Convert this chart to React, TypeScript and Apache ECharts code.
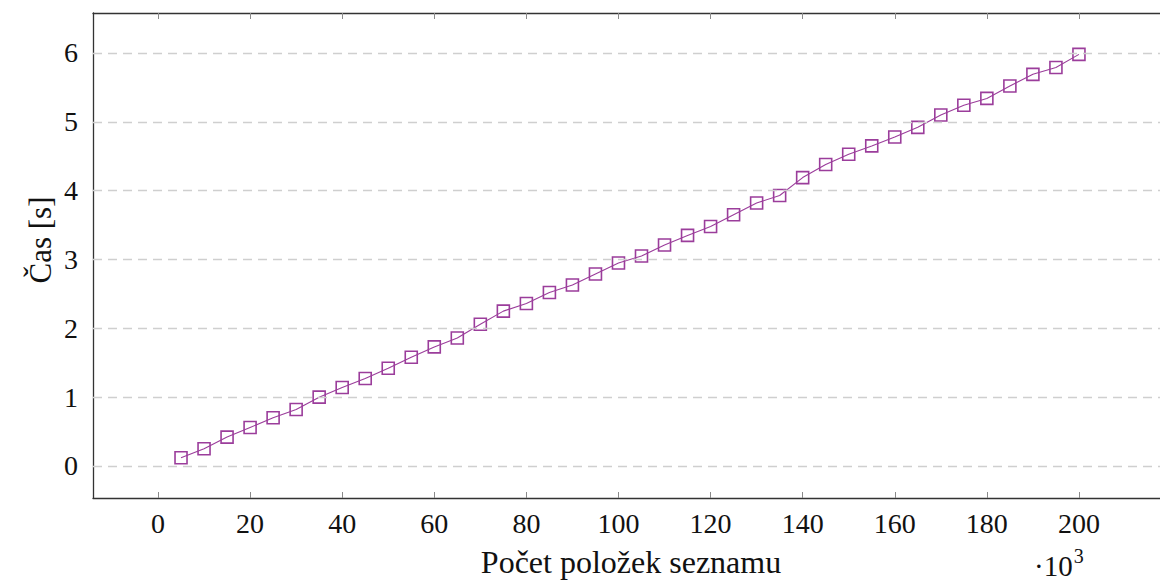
import React, { useEffect, useRef } from "react";
import * as echarts from "echarts";

const counts = [5, 10, 15, 20, 25, 30, 35, 40, 45, 50, 55, 60, 65, 70, 75, 80, 85, 90, 95, 100,
  105, 110, 115, 120, 125, 130, 135, 140, 145, 150, 155, 160, 165, 170, 175, 180, 185, 190, 195, 200];
const times = [0.12, 0.25, 0.42, 0.56, 0.70, 0.82, 1.00, 1.14, 1.27, 1.42, 1.58, 1.73, 1.86, 2.06, 2.25, 2.36, 2.52, 2.63, 2.79, 2.95,
  3.05, 3.21, 3.35, 3.48, 3.65, 3.82, 3.93, 4.19, 4.38, 4.53, 4.65, 4.78, 4.92, 5.10, 5.24, 5.34, 5.52, 5.69, 5.79, 5.98];
const xTicks = [0, 20, 40, 60, 80, 100, 120, 140, 160, 180, 200];
const yTicks = [0, 1, 2, 3, 4, 5, 6];

const FONT = "'Liberation Serif', 'DejaVu Serif', serif";
const PURPLE = "#9b3d9b";

export default function App() {
  const ref = useRef<HTMLDivElement>(null);
  useEffect(() => {
    document.body.style.margin = "0";
    const chart = echarts.init(ref.current!, null, { renderer: "svg" });
    const xMin = -14.115;
    const xMax = 217.6;
    const tickStyle = { show: true, inside: true, length: 6, lineStyle: { color: "#8a8a8a", width: 1 } };
    const axisLine = { show: true, onZero: false, lineStyle: { color: "#333", width: 1.3 } };
    chart.setOption({
      animation: false,
      backgroundColor: "#fff",
      grid: { left: 93, top: 13, right: 0, bottom: 84, containLabel: false },
      xAxis: [
        {
          type: "value", min: xMin, max: xMax, position: "bottom",
          axisLine,
          axisTick: { ...tickStyle, customValues: xTicks },
          axisLabel: { customValues: xTicks, margin: 11, fontFamily: FONT, fontSize: 28, color: "#111" },
          splitLine: { show: false },
        },
        {
          type: "value", min: xMin, max: xMax, position: "top",
          axisLine,
          axisTick: { ...tickStyle, customValues: xTicks },
          axisLabel: { show: false },
          splitLine: { show: false },
        },
      ],
      yAxis: {
        type: "value", min: -0.465, max: 6.581,
        axisLine,
        axisTick: { ...tickStyle, customValues: yTicks },
        axisLabel: { customValues: yTicks, margin: 15, fontFamily: FONT, fontSize: 28, color: "#111" },
        splitLine: { show: false },
      },
      series: [
        {
          type: "line",
          data: counts.map((c, i) => [c, times[i]]),
          symbol: "rect",
          symbolSize: 12,
          lineStyle: { color: PURPLE, width: 1.1 },
          itemStyle: { color: "rgba(255,255,255,0)", borderColor: PURPLE, borderWidth: 1.6 },
          markLine: {
            silent: true,
            symbol: "none",
            label: { show: false },
            lineStyle: { color: "#cfcfcf", type: [9, 6], width: 1.4 },
            data: yTicks.map((v) => ({ yAxis: v })),
          },
          z: 3,
        },
      ],
      graphic: [
        {
          type: "text", x: 40, y: 240, rotation: Math.PI / 2,
          style: { text: "Čas [s]", font: `31px ${FONT}`, fill: "#111", align: "center", verticalAlign: "middle" },
        },
        {
          type: "text", x: 631, y: 562,
          style: { text: "Počet položek seznamu", font: `32px ${FONT}`, fill: "#111", align: "center", verticalAlign: "middle" },
        },
        {
          type: "text", x: 1034, y: 563,
          style: {
            text: "{a|·10}{b|3}",
            align: "left", verticalAlign: "middle",
            rich: {
              a: { fontFamily: FONT, fontSize: 29, fill: "#111", verticalAlign: "bottom" },
              b: { fontFamily: FONT, fontSize: 20, fill: "#111", padding: [0, 0, 14, 1] },
            },
          },
        },
      ],
    });
    return () => chart.dispose();
  }, []);
  return <div ref={ref} style={{ width: 1160, height: 582 }} />;
}
